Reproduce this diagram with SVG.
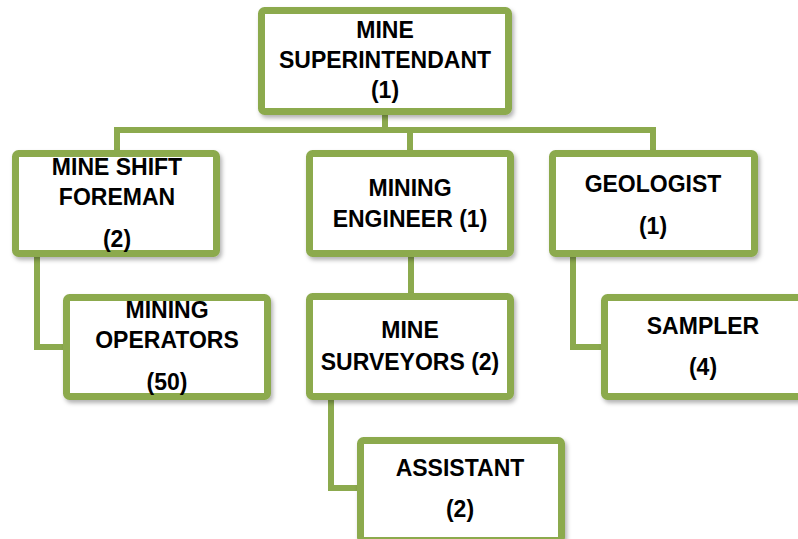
<svg xmlns="http://www.w3.org/2000/svg" width="798" height="539" viewBox="0 0 798 539">
<defs>
<filter id="sh" x="-10%" y="-10%" width="125%" height="130%">
<feDropShadow dx="2" dy="3" stdDeviation="2" flood-color="#000" flood-opacity="0.3"/>
</filter>
<style>
.box{fill:#fff;stroke:#8caa4e;stroke-width:7;filter:url(#sh)}
.con{fill:none;stroke:#8caa4e;stroke-width:6}
text{font-family:"Liberation Sans",Arial,sans-serif;font-weight:bold;font-size:23px;fill:#000;text-anchor:middle}
</style>
</defs>
<rect width="798" height="539" fill="#fff"/>
<g id="connectors">
<path class="con" d="M117 150 V130 H653 V150"/>
<path class="con" d="M385 112 V130"/>
<path class="con" d="M410 130 V150"/>
<path class="con" d="M411 255 V293"/>
<path class="con" d="M37 255 V347 H65"/>
<path class="con" d="M573 255 V347 H603"/>
<path class="con" d="M331 398 V488 H359"/>
</g>
<g id="superintendant">
<rect class="box" x="261.5" y="10.5" width="247" height="101" rx="3"/>
<text x="385" y="38">MINE</text>
<text x="385" y="68">SUPERINTENDANT</text>
<text x="385" y="98">(1)</text>
</g>
<g id="foreman">
<rect class="box" x="15.5" y="153.5" width="201" height="100" rx="3"/>
<text x="117" y="175">MINE SHIFT</text>
<text x="117" y="205">FOREMAN</text>
<text x="117" y="247">(2)</text>
</g>
<g id="engineer">
<rect class="box" x="309.5" y="153.5" width="201" height="100" rx="3"/>
<text x="410" y="196">MINING</text>
<text x="410" y="227">ENGINEER (1)</text>
</g>
<g id="geologist">
<rect class="box" x="552.5" y="153.5" width="202" height="100" rx="3"/>
<text x="653" y="192">GEOLOGIST</text>
<text x="653" y="234">(1)</text>
</g>
<g id="operators">
<rect class="box" x="66.5" y="297.5" width="201" height="99" rx="3"/>
<text x="167" y="318">MINING</text>
<text x="167" y="348">OPERATORS</text>
<text x="167" y="390">(50)</text>
</g>
<g id="surveyors">
<rect class="box" x="309.5" y="296.5" width="201" height="100" rx="3"/>
<text x="410" y="338">MINE</text>
<text x="410" y="370">SURVEYORS (2)</text>
</g>
<g id="sampler">
<rect class="box" x="604.5" y="297.5" width="202" height="99" rx="3"/>
<text x="703" y="334">SAMPLER</text>
<text x="703" y="375">(4)</text>
</g>
<g id="assistant">
<rect class="box" x="360.5" y="440.5" width="201" height="100" rx="3"/>
<text x="460" y="476">ASSISTANT</text>
<text x="460" y="517">(2)</text>
</g>
</svg>
